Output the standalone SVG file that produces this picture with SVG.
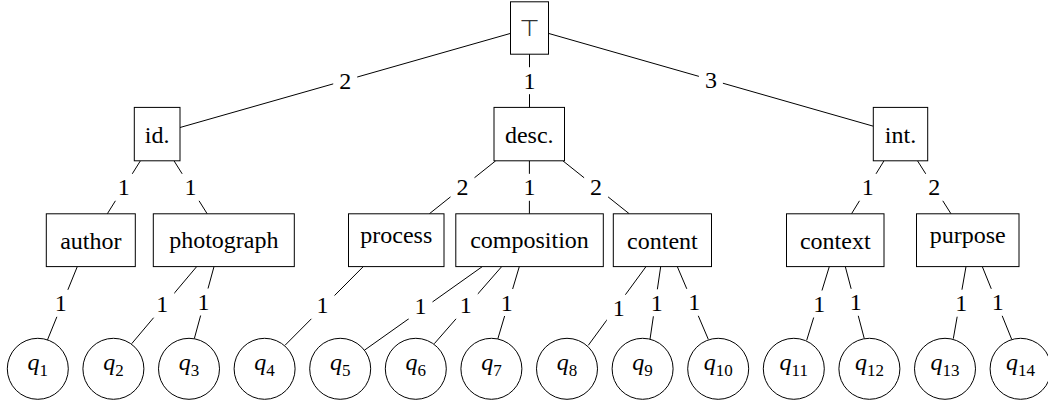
<svg xmlns="http://www.w3.org/2000/svg" width="1048" height="406" viewBox="0 0 1048 406">
<style>
.box{fill:#fff;stroke:#000;stroke-width:1}
.edge{stroke:#000;stroke-width:1;fill:none}
</style>
<rect width="1048" height="406" fill="#fff"/>
<g id="connectors">
<line class="edge" x1="510.5" y1="33.4" x2="180" y2="127.5"/>
<line class="edge" x1="529.5" y1="54" x2="529.5" y2="107.4"/>
<line class="edge" x1="548.5" y1="33.4" x2="873.3" y2="126.2"/>
<line class="edge" x1="140.4" y1="160.8" x2="107.3" y2="213.8"/>
<line class="edge" x1="174.0" y1="160.8" x2="207.2" y2="213.8"/>
<line class="edge" x1="495.7" y1="160.8" x2="429.3" y2="213.8"/>
<line class="edge" x1="529.4" y1="160.8" x2="529.4" y2="213.8"/>
<line class="edge" x1="562.85" y1="160.8" x2="629.3" y2="213.8"/>
<line class="edge" x1="884.0" y1="160.8" x2="851.5" y2="213.8"/>
<line class="edge" x1="917.5" y1="160.8" x2="951.0" y2="213.8"/>
<line class="edge" x1="77.3" y1="266.6" x2="47.3" y2="340.3"/>
<line class="edge" x1="196.7" y1="266.6" x2="131.7" y2="343.7"/>
<line class="edge" x1="214" y1="266.6" x2="194.3" y2="338.7"/>
<line class="edge" x1="363.3" y1="266.6" x2="285" y2="345.3"/>
<line class="edge" x1="482.3" y1="266.6" x2="364.3" y2="350.3"/>
<line class="edge" x1="501.7" y1="266.6" x2="434.3" y2="343.7"/>
<line class="edge" x1="519.3" y1="266.6" x2="497.7" y2="339.3"/>
<line class="edge" x1="646" y1="266.6" x2="588.3" y2="345.3"/>
<line class="edge" x1="660.7" y1="266.6" x2="650" y2="339.3"/>
<line class="edge" x1="677.3" y1="266.6" x2="708.3" y2="339.3"/>
<line class="edge" x1="829.3" y1="266.6" x2="806.7" y2="340.3"/>
<line class="edge" x1="845.3" y1="266.6" x2="864.3" y2="338.7"/>
<line class="edge" x1="966" y1="266.6" x2="953.3" y2="338.7"/>
<line class="edge" x1="982.3" y1="266.6" x2="1011.7" y2="339.3"/>
<g id="label-bg" fill="#fff">
<rect x="333.2" y="67" width="24" height="27"/>
<rect x="517.5" y="67.2" width="24" height="27"/>
<rect x="698.9" y="66.3" width="24" height="27"/>
<rect x="111.85" y="173.8" width="24" height="27"/>
<rect x="178.6" y="173.8" width="24" height="27"/>
<rect x="450.5" y="173.8" width="24" height="27"/>
<rect x="517.4" y="173.8" width="24" height="27"/>
<rect x="584.1" y="173.8" width="24" height="27"/>
<rect x="855.75" y="173.8" width="24" height="27"/>
<rect x="922.25" y="173.8" width="24" height="27"/>
<rect x="48.8" y="289.8" width="24" height="27"/>
<rect x="150.3" y="290.7" width="24" height="27"/>
<rect x="191.5" y="288.5" width="24" height="27"/>
<rect x="310.5" y="291.8" width="24" height="27"/>
<rect x="408.5" y="292.2" width="24" height="27"/>
<rect x="453.8" y="291.8" width="24" height="27"/>
<rect x="494.7" y="289" width="24" height="27"/>
<rect x="606.7" y="294.7" width="24" height="27"/>
<rect x="644.8" y="289.3" width="24" height="27"/>
<rect x="682.2" y="288.8" width="24" height="27"/>
<rect x="807.2" y="290.5" width="24" height="27"/>
<rect x="843.8" y="288.8" width="24" height="27"/>
<rect x="949.2" y="289.7" width="24" height="27"/>
<rect x="985.8" y="288.8" width="24" height="27"/>
</g>
<g id="labels" font-family="Liberation Serif" font-size="24" fill="#000" text-anchor="middle">
<text x="345.2" y="88.5">2</text>
<text x="529.5" y="88.7">1</text>
<text x="710.9" y="87.8">3</text>
<text x="123.85" y="195.3">1</text>
<text x="190.6" y="195.3">1</text>
<text x="462.5" y="195.3">2</text>
<text x="529.4" y="195.3">1</text>
<text x="596.1" y="195.3">2</text>
<text x="867.75" y="195.3">1</text>
<text x="934.25" y="195.3">2</text>
<text x="60.8" y="311.3">1</text>
<text x="162.3" y="312.2">1</text>
<text x="203.5" y="310">1</text>
<text x="322.5" y="313.3">1</text>
<text x="420.5" y="313.7">1</text>
<text x="465.8" y="313.3">1</text>
<text x="506.7" y="310.5">1</text>
<text x="618.7" y="316.2">1</text>
<text x="656.8" y="310.8">1</text>
<text x="694.2" y="310.3">1</text>
<text x="819.2" y="312">1</text>
<text x="855.8" y="310.3">1</text>
<text x="961.2" y="311.2">1</text>
<text x="997.8" y="310.3">1</text>
</g>
</g>
<g id="nodes" font-family="Liberation Serif" font-size="24" fill="#000" text-anchor="middle">
<g id="n-top"><rect class="box" x="510.5" y="1.8" width="38" height="52.4"/><text x="529.5" y="36" font-family="DejaVu Sans" font-size="23" fill="#333">⊤</text></g>
<g id="n-id"><rect class="box" x="134.3" y="107.4" width="45.7" height="53.4"/><text x="157.2" y="143.2">id.</text></g>
<g id="n-desc"><rect class="box" x="494" y="107.4" width="70.5" height="53.4"/><text x="529.25" y="143.2">desc.</text></g>
<g id="n-int"><rect class="box" x="873.3" y="107.4" width="54.4" height="53.4"/><text x="900.5" y="143.2">int.</text></g>
<g id="n-author"><rect class="box" x="46.3" y="213.8" width="89" height="52.8"/><text x="90.8" y="248.6">author</text></g>
<g id="n-photograph"><rect class="box" x="153.3" y="213.8" width="141" height="52.8"/><text x="223.8" y="248.4">photograph</text></g>
<g id="n-process"><rect class="box" x="348.5" y="213.8" width="95.5" height="52.8"/><text x="396.25" y="243.2">process</text></g>
<g id="n-composition"><rect class="box" x="455.8" y="213.8" width="147.5" height="52.8"/><text x="529.55" y="248.4">composition</text></g>
<g id="n-content"><rect class="box" x="613.3" y="213.8" width="98.2" height="52.8"/><text x="662.4" y="248.6">content</text></g>
<g id="n-context"><rect class="box" x="786.5" y="213.8" width="97.5" height="52.8"/><text x="835.25" y="248.6">context</text></g>
<g id="n-purpose"><rect class="box" x="916.5" y="213.8" width="102.5" height="52.8"/><text x="967.75" y="243.2">purpose</text></g>
<g id="n-q1"><circle class="box" cx="37.8" cy="368.8" r="30.5"/><text x="37.8" y="369.5"><tspan font-style="italic">q</tspan><tspan font-size="17" dy="6">1</tspan></text></g>
<g id="n-q2"><circle class="box" cx="113.4" cy="368.8" r="30.5"/><text x="113.4" y="369.5"><tspan font-style="italic">q</tspan><tspan font-size="17" dy="6">2</tspan></text></g>
<g id="n-q3"><circle class="box" cx="189" cy="368.8" r="30.5"/><text x="189" y="369.5"><tspan font-style="italic">q</tspan><tspan font-size="17" dy="6">3</tspan></text></g>
<g id="n-q4"><circle class="box" cx="264.6" cy="368.8" r="30.5"/><text x="264.6" y="369.5"><tspan font-style="italic">q</tspan><tspan font-size="17" dy="6">4</tspan></text></g>
<g id="n-q5"><circle class="box" cx="340.2" cy="368.8" r="30.5"/><text x="340.2" y="369.5"><tspan font-style="italic">q</tspan><tspan font-size="17" dy="6">5</tspan></text></g>
<g id="n-q6"><circle class="box" cx="415.8" cy="368.8" r="30.5"/><text x="415.8" y="369.5"><tspan font-style="italic">q</tspan><tspan font-size="17" dy="6">6</tspan></text></g>
<g id="n-q7"><circle class="box" cx="491.4" cy="368.8" r="30.5"/><text x="491.4" y="369.5"><tspan font-style="italic">q</tspan><tspan font-size="17" dy="6">7</tspan></text></g>
<g id="n-q8"><circle class="box" cx="567" cy="368.8" r="30.5"/><text x="567" y="369.5"><tspan font-style="italic">q</tspan><tspan font-size="17" dy="6">8</tspan></text></g>
<g id="n-q9"><circle class="box" cx="642.6" cy="368.8" r="30.5"/><text x="642.6" y="369.5"><tspan font-style="italic">q</tspan><tspan font-size="17" dy="6">9</tspan></text></g>
<g id="n-q10"><circle class="box" cx="718.2" cy="368.8" r="30.5"/><text x="718.2" y="369.5"><tspan font-style="italic">q</tspan><tspan font-size="17" dy="6">10</tspan></text></g>
<g id="n-q11"><circle class="box" cx="793.8" cy="368.8" r="30.5"/><text x="793.8" y="369.5"><tspan font-style="italic">q</tspan><tspan font-size="17" dy="6">11</tspan></text></g>
<g id="n-q12"><circle class="box" cx="869.4" cy="368.8" r="30.5"/><text x="869.4" y="369.5"><tspan font-style="italic">q</tspan><tspan font-size="17" dy="6">12</tspan></text></g>
<g id="n-q13"><circle class="box" cx="945" cy="368.8" r="30.5"/><text x="945" y="369.5"><tspan font-style="italic">q</tspan><tspan font-size="17" dy="6">13</tspan></text></g>
<g id="n-q14"><circle class="box" cx="1020.6" cy="368.8" r="30.5"/><text x="1020.6" y="369.5"><tspan font-style="italic">q</tspan><tspan font-size="17" dy="6">14</tspan></text></g>
</g>
</svg>
